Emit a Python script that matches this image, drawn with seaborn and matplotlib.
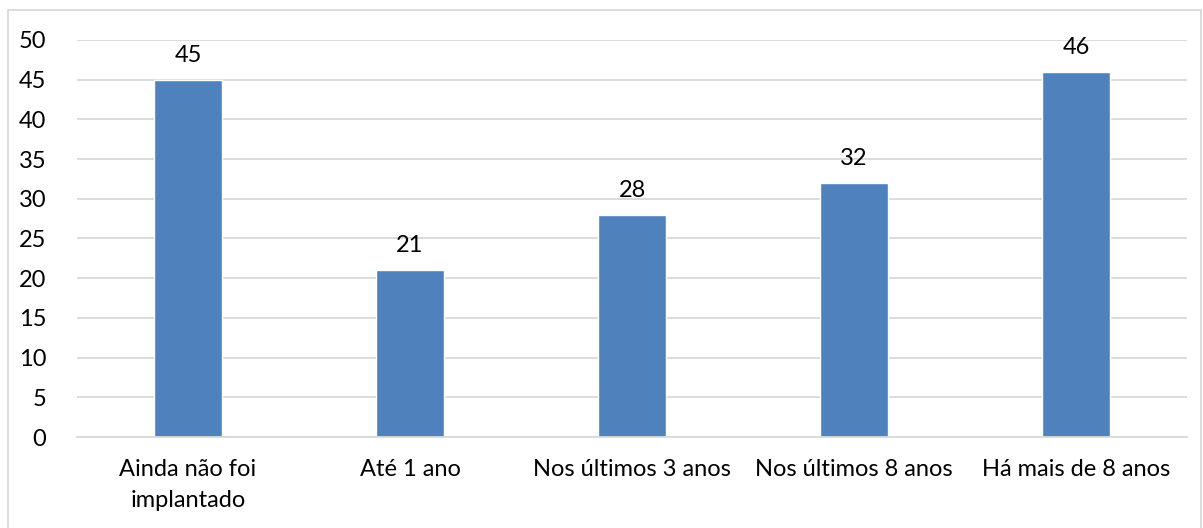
import matplotlib
matplotlib.use("Agg")
import matplotlib.pyplot as plt
import seaborn as sns
import pandas as pd
from matplotlib.patches import Rectangle

categories = ["Ainda não foi\nimplantado", "Até 1 ano", "Nos últimos 3 anos", "Nos últimos 8 anos", "Há mais de 8 anos"]
values = [45, 21, 28, 32, 46]
yticks = [0, 5, 10, 15, 20, 25, 30, 35, 40, 45, 50]

sns.set_theme(style="white")
plt.rcParams['font.family'] = ['Lato', 'DejaVu Sans']

df = pd.DataFrame({"cat": categories, "val": values})

fig = plt.figure(figsize=(12.03, 5.28), dpi=100)
ax = fig.add_axes([77/1203, 1-437/528, 1110/1203, 397/528])

sns.barplot(data=df, x="cat", y="val", color="#4F81BD", saturation=1, width=0.306, ax=ax)

FS = 17
ax.set_ylim(0, 50)
ax.set_xlim(-0.5, 4.5)
ax.set_yticks(yticks)
ax.set_yticklabels([str(t) for t in yticks], fontsize=FS, color="#000000")
ax.tick_params(axis='x', labelsize=FS, colors="#000000", length=0, pad=16)
ax.tick_params(axis='y', length=0, pad=22)
for lab in ax.get_xticklabels():
    lab.set_linespacing(1.6)
ax.set_xlabel("")
ax.set_ylabel("")
ax.yaxis.grid(True, color="#D9D9D9", linewidth=1.3)
ax.set_axisbelow(True)
for s in ["top", "right", "left"]:
    ax.spines[s].set_visible(False)
ax.spines["bottom"].set_color("#D9D9D9")
ax.spines["bottom"].set_linewidth(1.3)

for c in ax.containers:
    ax.bar_label(c, labels=[str(v) for v in values], padding=10, fontsize=FS, color="#000000")

fig.patches.append(Rectangle((8/1203, -0.01), 1193/1203, 1-10/528+0.01, transform=fig.transFigure,
                             fill=False, edgecolor="#D9D9D9", linewidth=1.3))

fig.savefig("out.png", dpi=100)
